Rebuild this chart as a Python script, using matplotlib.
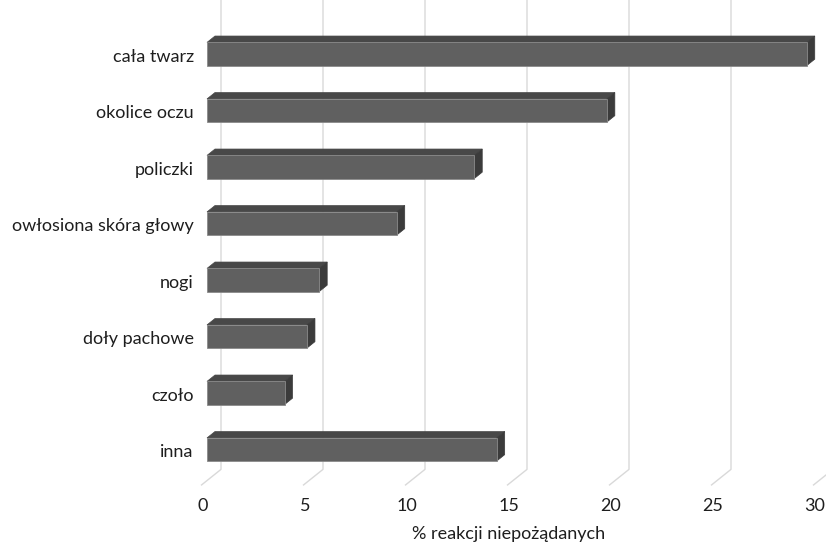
import matplotlib
matplotlib.use("Agg")
import matplotlib.pyplot as plt
from matplotlib.patches import Polygon

plt.rcParams['font.family'] = ['Lato', 'DejaVu Sans']

categories = ["cała twarz", "okolice oczu", "policzki", "owłosiona skóra głowy",
              "nogi", "doły pachowe", "czoło", "inna"]
values = [29.4, 19.6, 13.1, 9.3, 5.5, 4.9, 3.8, 14.2]
xticks = [0, 5, 10, 15, 20, 25, 30]
xlabel = "% reakcji niepożądanych"

# pseudo-3D settings (depth 0 = front face of the bars)
kx, ky = 0.98, 0.283          # shift in data units per unit of depth
bar_depth = 0.4
front_plane, back_plane = -0.3, 0.7
bar_h = 0.41
floor_y = 7.55                # floor level on the front face plane

c_front = "#606060"
c_top = "#484848"
c_side = "#3b3b3b"
c_grid = "#d9d9d9"
c_text = "#1e1e1e"


def pt(x, y, d):
    return (x + d * kx, y - d * ky)


fig = plt.figure(figsize=(8.26, 5.43), dpi=100)
ax = fig.add_axes([180 / 826, 0, 646 / 826, 1])
ax.set_xlim(-27 / 20.4, 619 / 20.4)
ax.set_ylim((543 - 54) / 56.5, -54 / 56.5)
ax.axis("off")

# gridlines: walls at the back plus the floor going toward the front
for t in xticks:
    xb, yb = pt(t, floor_y, back_plane)
    xf, yf = pt(t, floor_y, front_plane)
    ax.plot([xb, xb, xf], [-2, yb, yf], color=c_grid, lw=1.0, zorder=0,
            solid_capstyle="butt")
    ax.text(xf + 0.1, 8.0, str(t), ha="center", va="center", fontsize=13,
            color=c_text)

for i, v in enumerate(values):
    top, bot = i - bar_h / 2, i + bar_h / 2
    front = [(0, top), (v, top), (v, bot), (0, bot)]
    topface = [(0, top), pt(0, top, bar_depth), pt(v, top, bar_depth), (v, top)]
    side = [(v, top), pt(v, top, bar_depth), pt(v, bot, bar_depth), (v, bot)]
    ax.add_patch(Polygon(topface, closed=True, fc=c_top, ec=c_top, lw=0.5, zorder=2))
    ax.add_patch(Polygon(side, closed=True, fc=c_side, ec=c_side, lw=0.5, zorder=2))
    ax.add_patch(Polygon(front, closed=True, fc=c_front, ec="#8a8a8a", lw=0.6, zorder=3))
    ax.text(-0.65, i + 0.05, categories[i], ha="right", va="center", fontsize=13,
            color=c_text)

ax.text(14.8, 8.5, xlabel, ha="center", va="center", fontsize=13, color=c_text)

fig.savefig("out.png", dpi=100)
